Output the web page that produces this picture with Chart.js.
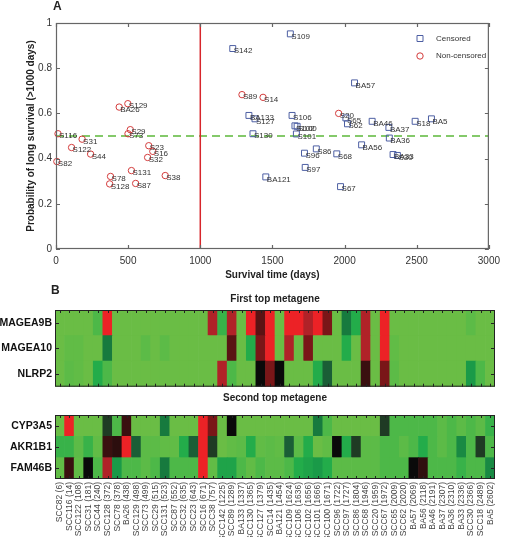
<!DOCTYPE html>
<html>
<head>
<meta charset="utf-8">
<script src="https://cdn.jsdelivr.net/npm/chart.js@4.4.0/dist/chart.umd.min.js"></script>
<style>
  body { margin: 0; background: #fff; font-family: "Liberation Sans", Arial, sans-serif; }
  #wrap { position: relative; width: 506px; height: 537px; overflow: hidden; }
  canvas { position: absolute; left: 0; }
  .panel { position: absolute; font-weight: bold; font-size: 12px; color: #222; }
</style>
</head>
<body>
<div id="wrap">
  <canvas id="scatter" width="506" height="285" style="top:0"></canvas>
  <canvas id="heat1" width="506" height="100" style="top:290px"></canvas>
  <canvas id="heat2" width="506" height="147" style="top:390px"></canvas>
  <div class="panel" style="left:53px;top:-1px">A</div>
  <div class="panel" style="left:51px;top:283px">B</div>
</div>
<script>
// samples, ordered by survival time
const sampleIds = ["SCC82","SCC116","SCC122","SCC31","SCC44","SCC128","SCC78","BA26","SCC129","SCC73",
  "SCC29","SCC131","SCC87","SCC32","SCC23","SCC16","SCC38","SCC142","SCC89","BA133",
  "SCC130","SCC127","SCC14","BA121","SCC109","SCC106","SCC102","SCC101","SCC100","SCC96",
  "SCC97","SCC86","SCC68","SCC20","SCC67","SCC65","SCC62","BA57","BA56","BA46",
  "BA37","BA36","BA33","SCC30","SCC18","BA5"];
const survivalDays = [6,14,108,181,240,372,378,438,498,499,
  515,523,552,635,643,671,757,1225,1289,1337,
  1365,1379,1435,1454,1624,1636,1656,1666,1671,1722,
  1727,1804,1946,1959,1972,2009,2020,2069,2118,2191,
  2307,2310,2336,2366,2489,2602];
const longSurvivalProb = [0.387,0.51,0.449,0.486,0.42,0.288,0.321,0.628,0.643,0.51,
  0.528,0.347,0.29,0.405,0.457,0.432,0.325,0.887,0.683,0.591,
  0.51,0.576,0.671,0.319,0.952,0.591,0.545,0.509,0.543,0.424,
  0.361,0.443,0.421,0.60,0.276,0.58,0.554,0.735,0.461,0.565,
  0.538,0.491,0.418,0.414,0.565,0.576];
// 1 = censored, 0 = non-censored
const censored = [0,0,0,0,0,0,0,0,0,0,
  0,0,0,0,0,0,0,1,0,1,
  1,1,0,1,1,1,1,1,1,1,
  1,1,1,0,1,1,1,1,1,1,
  1,1,1,1,1,1];

const cutoffDays = 1000;
const probThreshold = 0.5;

// metagene expression (colour index: 0 light green ... 7 black ... 11 red)
const metagene1Rows = ["MAGEA9B", "MAGEA10", "NLRP2"];
const MAGEA9B = [0,0,0,0,1,11,0,0,0,0, 0,0,0,0,0,0,10,1.5,10,0, 11,8.5,11,0,11,11,10,11,9,0, 4,2,10,0,11,0,0,0,0,0, 0,0,0,0.5,0,0];
const MAGEA10 = [0,0.3,0.3,0,0,4,0,0,0,0.5, 0,0.5,0,0,0,0,0,0,8.5,0, 2,9,11,0,10,0,9,0,0,0, 2,0,10,0,11,0.3,0,0,0,0, 0,0,0,0,0,0];
const NLRP2 = [0,0.5,0.3,0,2,1,0,0,0,0, 0,0,0,0,0,0,0,10,1,0, 0,7,9,7,0,0,0,2,5,0, 0,0,8,0,9,0.5,0,0,0,0, 0,0,0,3,1,0];

const metagene2Rows = ["CYP3A5", "AKR1B1", "FAM46B"];
const CYP3A5 = [0,11,0,0,0,6,1,8,0,0, 0,4,0,0,0,11,9,0,7,0, 0,0,0,0,0,0,0,4,1,0, 0,0,0,0,6,1,1,1,1,1, 0.5,1,0.5,1,0.5,1.5];
const AKR1B1 = [1.5,1.5,0.5,1.5,0.3,8,7.7,11,5,0.5, 0.5,0.3,0.3,2,5,11,6,0,0.3,0.5, 2,0.3,0.5,0.3,5,0.5,2,0,0.3,7, 2,6,0.5,0.5,1,1,0.5,1,2,1, 0.5,1,3.5,1,6,1];
const FAM46B = [0.3,8,0.3,7,1,10,3,1,1,0.5, 1,4,1,1,1,11,0.3,2.5,2.5,1, 0.3,1,0.5,0.5,1,2,2.5,3,2,0.5, 0.5,0.5,0.5,0.5,1,1,1,7,7.8,1, 1,1,1.5,1,1,3.5];

const FONT = '"Liberation Sans", Arial, sans-serif';
Chart.defaults.font.family = FONT;
Chart.defaults.color = "#222";

const colorStops = [
  [106,189,69],[77,184,72],[35,172,74],[26,154,72],[23,122,62],[26,94,54],
  [31,59,36],[10,10,10],[58,16,16],[122,22,24],[176,34,40],[236,34,38]
];
function heatColor(v) {
  const i = Math.min(Math.floor(v), colorStops.length - 2);
  const f = v - i;
  const a = colorStops[i], b = colorStops[i + 1];
  const c = a.map((ch, k) => Math.round(ch + (b[k] - ch) * f));
  return "rgb(" + c.join(",") + ")";
}

// box + inward ticks, matlab style
const axisFrame = {
  id: "axisFrame",
  afterDraw(chart, args, opts) {
    const { ctx, chartArea: a, scales } = chart;
    ctx.save();
    ctx.strokeStyle = opts.color;
    ctx.lineWidth = opts.width;
    ctx.strokeRect(a.left + 0.5, a.top + 0.5, a.width - 1, a.height - 1);
    ctx.beginPath();
    scales.x.ticks.forEach((t, i) => {
      const px = Math.round(scales.x.getPixelForTick(i)) + 0.5;
      ctx.moveTo(px, a.top); ctx.lineTo(px, a.top + opts.xLen);
      ctx.moveTo(px, a.bottom); ctx.lineTo(px, a.bottom - opts.xLen);
    });
    scales.y.ticks.forEach((t) => {
      const py = Math.round(scales.y.getPixelForValue(t.value)) + 0.5;
      ctx.moveTo(a.left, py); ctx.lineTo(a.left + opts.yLen, py);
      ctx.moveTo(a.right, py); ctx.lineTo(a.right - opts.yLen, py);
    });
    ctx.stroke();
    ctx.restore();
  }
};

const pointLabels = {
  id: "pointLabels",
  afterDatasetsDraw(chart) {
    const ctx = chart.ctx;
    ctx.save();
    ctx.font = "8px " + FONT;
    ctx.fillStyle = "#333";
    ctx.textBaseline = "middle";
    chart.data.datasets.forEach((ds, di) => {
      if (!ds.pointNames) return;
      chart.getDatasetMeta(di).data.forEach((pt, i) => {
        ctx.fillText(ds.pointNames[i], pt.x + 1, pt.y + 2.5);
      });
    });
    ctx.restore();
  }
};

const insideLegend = {
  id: "insideLegend",
  afterDraw(chart) {
    const ctx = chart.ctx;
    ctx.save();
    ctx.font = "8px " + FONT;
    ctx.textBaseline = "middle";
    ctx.fillStyle = "#333";
    let y = 38.5;
    chart.data.datasets.filter(d => d.pointNames).forEach(ds => {
      ctx.strokeStyle = ds.borderColor;
      ctx.lineWidth = 1;
      ctx.beginPath();
      if (ds.pointStyle === "rect") ctx.rect(417, y - 3, 6, 6);
      else ctx.arc(420, y, 3.2, 0, Math.PI * 2);
      ctx.stroke();
      ctx.fillText(ds.label, 436, y);
      y += 17.5;
    });
    ctx.restore();
  }
};

// scatter (panel A)
const shortName = id => id.replace("SCC", "S");
const idx = sampleIds.map((s, i) => i);
const cens = idx.filter(i => censored[i] === 1);
const nonCens = idx.filter(i => censored[i] === 0);

new Chart(document.getElementById("scatter"), {
  type: "scatter",
  data: {
    datasets: [
      {
        label: "Censored",
        data: cens.map(i => ({ x: survivalDays[i], y: longSurvivalProb[i] })),
        pointNames: cens.map(i => shortName(sampleIds[i])),
        pointStyle: "rect", radius: 4.2, borderWidth: 1,
        borderColor: "#4d5fa3", backgroundColor: "rgba(0,0,0,0)",
        clip: false, order: 1
      },
      {
        label: "Non-censored",
        data: nonCens.map(i => ({ x: survivalDays[i], y: longSurvivalProb[i] })),
        pointNames: nonCens.map(i => shortName(sampleIds[i])),
        pointStyle: "circle", radius: 3.2, borderWidth: 1,
        borderColor: "#d33b3b", backgroundColor: "rgba(0,0,0,0)",
        clip: false, order: 1
      },
      {
        type: "line", label: "cutoff",
        data: [{ x: cutoffDays, y: 0 }, { x: cutoffDays, y: 1 }],
        borderColor: "#d7262b", borderWidth: 1.5, pointRadius: 0, order: 2
      },
      {
        type: "line", label: "threshold",
        data: [{ x: 0, y: probThreshold }, { x: 3000, y: probThreshold }],
        borderColor: "#5cb83a", borderWidth: 1.5, borderDash: [8, 5], pointRadius: 0, order: 2
      }
    ]
  },
  options: {
    responsive: false,
    animation: false,
    layout: { padding: { left: 0, right: 11, top: 23, bottom: 0 } },
    plugins: {
      legend: { display: false },
      tooltip: { enabled: false },
      axisFrame: { color: "#666", width: 1.2, xLen: 4, yLen: 4 }
    },
    scales: {
      x: {
        type: "linear", min: 0, max: 3000,
        grid: { display: false, drawTicks: false },
        border: { display: false },
        ticks: { stepSize: 500, font: { size: 10 }, color: "#333", padding: 6, callback: v => String(v) },
        title: { display: true, text: "Survival time (days)", font: { size: 10, weight: "bold" }, color: "#222", padding: { top: 0, bottom: 4 } },
        afterFit: s => { s.height = 36; }
      },
      y: {
        min: 0, max: 1,
        grid: { display: false, drawTicks: false },
        border: { display: false },
        ticks: { stepSize: 0.2, font: { size: 10 }, color: "#333", padding: 4, callback: v => String(+v.toFixed(1)) },
        title: { display: true, text: "Probability of long survival (>1000 days)", font: { size: 10, weight: "bold" }, color: "#222", padding: { top: 25, bottom: 0 } },
        afterFit: s => { s.width = 56; }
      }
    }
  },
  plugins: [axisFrame, pointLabels, insideLegend]
});

// heatmaps (panel B)
const sampleLabels = sampleIds.map((s, i) => s + " (" + survivalDays[i] + ")");

function heatmap(canvasId, title, rowNames, rows, showLabels, titlePad, xHeight, bottomPad) {
  const datasets = rows.slice().reverse().map((vals, k) => ({
    label: rowNames[rowNames.length - 1 - k],
    data: vals.map(() => 1),
    backgroundColor: vals.map(heatColor),
    borderWidth: 0,
    categoryPercentage: 1,
    barPercentage: 1
  }));
  return new Chart(document.getElementById(canvasId), {
    type: "bar",
    data: { labels: sampleLabels, datasets },
    options: {
      responsive: false,
      animation: false,
      layout: { padding: { left: 0, right: 11, top: 0, bottom: bottomPad } },
      plugins: {
        legend: { display: false },
        tooltip: { enabled: false },
        title: { display: true, text: title, fullSize: false, font: { size: 10, weight: "bold" }, color: "#222", padding: titlePad },
        axisFrame: { color: "#222", width: 1, xLen: 3, yLen: 4 }
      },
      scales: {
        x: {
          stacked: true,
          grid: { display: false, drawTicks: false },
          border: { display: false },
          ticks: { display: showLabels, autoSkip: false, minRotation: 90, maxRotation: 90, font: { size: 8.5 }, color: "#444", padding: 3 },
          afterFit: s => { s.height = xHeight; }
        },
        y: {
          stacked: true, min: 0, max: 3,
          grid: { display: false, drawTicks: false },
          border: { display: false },
          afterBuildTicks: s => { s.ticks = [0.5, 1.5, 2.5].map(v => ({ value: v })); },
          ticks: {
            autoSkip: false,
            font: { size: 10.5, weight: "bold" }, color: "#111", padding: 3,
            callback: v => rowNames[Math.round(2.5 - v)]
          },
          afterFit: s => { s.width = 55; s.paddingTop = 0; s.paddingBottom = 0; }
        }
      }
    },
    plugins: [axisFrame]
  });
}

heatmap("heat1", "First top metagene", metagene1Rows, [MAGEA9B, MAGEA10, NLRP2], false, { top: 3, bottom: 5 }, 0, 3.3);
heatmap("heat2", "Second top metagene", metagene2Rows, [CYP3A5, AKR1B1, FAM46B], true, { top: 2, bottom: 11 }, 58, 0);
</script>
</body>
</html>
